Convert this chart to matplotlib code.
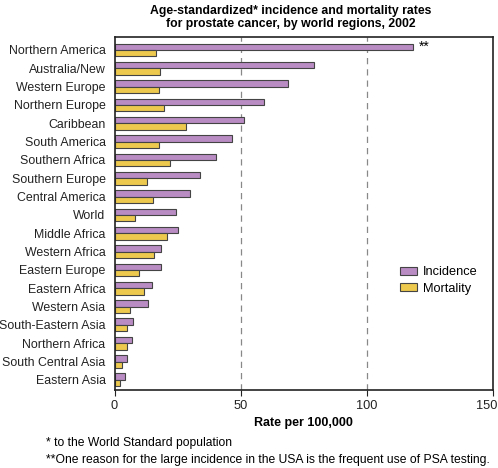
import numpy as np
import matplotlib
matplotlib.use("Agg")
import matplotlib.pyplot as plt
import matplotlib.transforms as mtransforms

plt.rcParams['font.family'] = ['Liberation Sans', 'DejaVu Sans']

regions = ["Northern America", "Australia/New", "Western Europe", "Northern Europe",
           "Caribbean", "South America", "Southern Africa", "Southern Europe",
           "Central America", "World", "Middle Africa", "Western Africa",
           "Eastern Europe", "Eastern Africa", "Western Asia", "South-Eastern Asia",
           "Northern Africa", "South Central Asia", "Eastern Asia"]
incidence = [118.4, 79.1, 68.8, 59.1, 51.5, 46.6, 40.1, 33.8, 30.1, 24.2,
             25.3, 18.4, 18.4, 14.7, 13.3, 7.5, 6.9, 5.1, 4.0]
mortality = [16.4, 18.0, 17.8, 19.7, 28.5, 17.8, 22.1, 13.0, 15.4, 8.3,
             20.9, 15.8, 9.8, 11.6, 6.1, 5.0, 5.0, 3.0, 2.2]

purple = '#B98CC4'
yellow = '#EDC94E'
edge = '#444444'

fig = plt.figure(figsize=(4.98, 4.68), dpi=100)
ax = fig.add_axes([0.23, 0.1667, 0.76, 0.754])

y = np.arange(len(regions))
h = 0.35
ax.barh(y - h/2, incidence, height=h, color=purple, edgecolor=edge, linewidth=0.8, label='Incidence')
ax.barh(y + h/2, mortality, height=h, color=yellow, edgecolor=edge, linewidth=0.8, label='Mortality')

ax.set_xlim(0, 150)
ax.set_ylim(18.55, -0.7)
ax.set_xticks([0, 50, 100, 150])
ax.set_yticks(y)
ax.set_yticklabels(regions, fontsize=8.9, color='#222222')
ax.tick_params(axis='y', length=0, pad=6.5)
ax.tick_params(axis='x', labelsize=9.2, length=4, direction='out', colors='#222222')
# keep the last tick label inside the figure
last = ax.get_xticklabels()[-1]
last.set_horizontalalignment('right')
last.set_transform(last.get_transform() + mtransforms.ScaledTranslation(4/100, 0, fig.dpi_scale_trans))

for xv in [50, 100]:
    ax.axvline(xv, color='#888888', linestyle=(0, (5, 4)), linewidth=0.9, zorder=0)
for s in ax.spines.values():
    s.set_linewidth(1.2)
    s.set_color('#222222')

ax.set_xlabel('Rate per 100,000', fontsize=9, fontweight='bold', labelpad=3)
ax.text(incidence[0] + 2, -h/2, '**', fontsize=10, va='center', ha='left')

leg = ax.legend(loc='center left', bbox_to_anchor=(0.724, 0.31), frameon=False,
                fontsize=9.2, handlelength=1.3, handleheight=0.6, handletextpad=0.5,
                labelspacing=0.35)

fig.text(0.583, 0.99, 'Age-standardized* incidence and mortality rates\nfor prostate cancer, by world regions, 2002',
         ha='center', va='top', fontsize=8.8, fontweight='bold', linespacing=1.1)
fig.text(0.092, 0.053, '* to the World Standard population', fontsize=8.7, va='center')
fig.text(0.092, 0.018, '**One reason for the large incidence in the USA is the frequent use of PSA testing.',
         fontsize=8.7, va='center')

fig.savefig('out.png', dpi=100)
